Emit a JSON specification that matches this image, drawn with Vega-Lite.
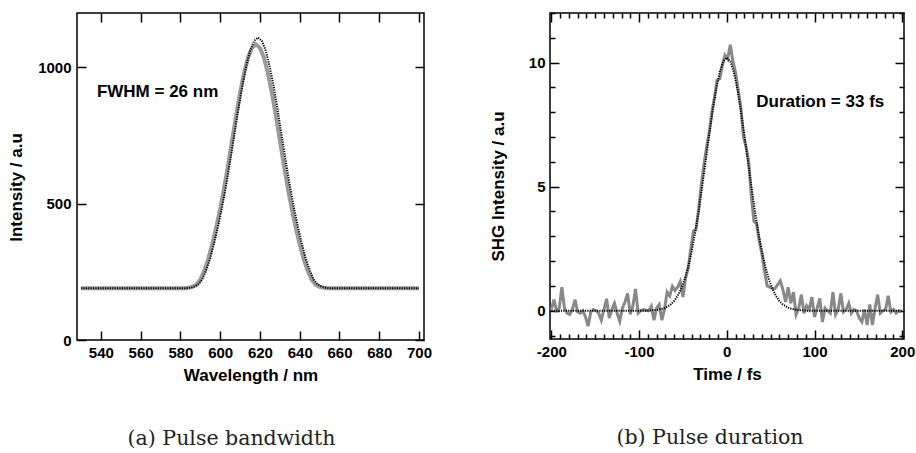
{
  "$schema": "https://vega.github.io/schema/vega-lite/v6.json",
  "background": "white",
  "padding": {"left": 6, "top": 11, "right": 0, "bottom": 0},
  "spacing": 55,
  "config": {
    "view": {"stroke": "black", "strokeWidth": 1.5},
    "axis": {
      "grid": false, "domain": false,
      "labelFont": "Liberation Sans", "labelFontWeight": "bold", "labelFontSize": 15, "labelColor": "black",
      "titleFont": "Liberation Sans", "titleFontWeight": "bold", "titleFontSize": 17, "titleColor": "black",
      "tickColor": "black", "tickWidth": 1.5
    }
  },
  "hconcat": [
    {
      "width": 347, "height": 327,
      "title": {"text": "(a) Pulse bandwidth", "orient": "bottom", "font": "DejaVu Serif", "fontSize": 20.5, "fontWeight": "normal", "color": "#222222", "offset": 46, "dx": -19},
      "layer": [
        {
          "data": {"values": [
            {"wavelength": 530, "intensity": 190}, {"wavelength": 550, "intensity": 190}, {"wavelength": 570, "intensity": 190},
            {"wavelength": 580, "intensity": 190}, {"wavelength": 582, "intensity": 190}, {"wavelength": 584, "intensity": 192},
            {"wavelength": 586, "intensity": 195}, {"wavelength": 588, "intensity": 203}, {"wavelength": 590, "intensity": 221},
            {"wavelength": 592, "intensity": 254}, {"wavelength": 594, "intensity": 297}, {"wavelength": 596, "intensity": 351},
            {"wavelength": 598, "intensity": 413}, {"wavelength": 600, "intensity": 481}, {"wavelength": 602, "intensity": 558},
            {"wavelength": 604, "intensity": 643}, {"wavelength": 606, "intensity": 733}, {"wavelength": 608, "intensity": 823},
            {"wavelength": 610, "intensity": 907}, {"wavelength": 612, "intensity": 979}, {"wavelength": 614, "intensity": 1037},
            {"wavelength": 616, "intensity": 1072}, {"wavelength": 618, "intensity": 1085}, {"wavelength": 620, "intensity": 1072},
            {"wavelength": 622, "intensity": 1037}, {"wavelength": 624, "intensity": 979}, {"wavelength": 626, "intensity": 907},
            {"wavelength": 628, "intensity": 823}, {"wavelength": 630, "intensity": 733}, {"wavelength": 632, "intensity": 643},
            {"wavelength": 634, "intensity": 558}, {"wavelength": 636, "intensity": 481}, {"wavelength": 638, "intensity": 413},
            {"wavelength": 640, "intensity": 351}, {"wavelength": 642, "intensity": 297}, {"wavelength": 644, "intensity": 254},
            {"wavelength": 646, "intensity": 221}, {"wavelength": 648, "intensity": 203}, {"wavelength": 650, "intensity": 195},
            {"wavelength": 652, "intensity": 192}, {"wavelength": 654, "intensity": 190}, {"wavelength": 670, "intensity": 190},
            {"wavelength": 690, "intensity": 190}, {"wavelength": 700, "intensity": 190}
          ]},
          "mark": {"type": "line", "color": "#9a9a9a", "strokeWidth": 4},
          "encoding": {
            "x": {"field": "wavelength", "type": "quantitative", "scale": {"domain": [528, 702.5], "nice": false, "zero": false},
              "axis": {"orient": "bottom", "values": [540, 560, 580, 600, 620, 640, 660, 680, 700], "format": "d", "tickSize": 9, "offset": -9, "labelPadding": 5, "title": "Wavelength / nm", "titlePadding": 7}},
            "y": {"field": "intensity", "type": "quantitative", "scale": {"domain": [0, 1200], "nice": false},
              "axis": {"orient": "left", "values": [0, 500, 1000], "format": "d", "tickSize": 9, "offset": -9, "labelPadding": 6, "title": "Intensity / a.u", "titlePadding": 12, "titleY": 174}}
          }
        },
        {
          "data": {"values": [
            {"wavelength": 530, "intensity": 190}, {"wavelength": 560, "intensity": 190}, {"wavelength": 583, "intensity": 190},
            {"wavelength": 585, "intensity": 192}, {"wavelength": 587, "intensity": 196}, {"wavelength": 589, "intensity": 204},
            {"wavelength": 591, "intensity": 222}, {"wavelength": 593, "intensity": 256}, {"wavelength": 595, "intensity": 300},
            {"wavelength": 597, "intensity": 356}, {"wavelength": 599, "intensity": 419}, {"wavelength": 601, "intensity": 489},
            {"wavelength": 603, "intensity": 568}, {"wavelength": 605, "intensity": 656}, {"wavelength": 607, "intensity": 748},
            {"wavelength": 609, "intensity": 840}, {"wavelength": 611, "intensity": 927}, {"wavelength": 613, "intensity": 1001},
            {"wavelength": 615, "intensity": 1060}, {"wavelength": 617, "intensity": 1097}, {"wavelength": 619, "intensity": 1110},
            {"wavelength": 621, "intensity": 1097}, {"wavelength": 623, "intensity": 1060}, {"wavelength": 625, "intensity": 1001},
            {"wavelength": 627, "intensity": 927}, {"wavelength": 629, "intensity": 840}, {"wavelength": 631, "intensity": 748},
            {"wavelength": 633, "intensity": 656}, {"wavelength": 635, "intensity": 568}, {"wavelength": 637, "intensity": 489},
            {"wavelength": 639, "intensity": 419}, {"wavelength": 641, "intensity": 356}, {"wavelength": 643, "intensity": 300},
            {"wavelength": 645, "intensity": 256}, {"wavelength": 647, "intensity": 222}, {"wavelength": 649, "intensity": 204},
            {"wavelength": 651, "intensity": 196}, {"wavelength": 653, "intensity": 192}, {"wavelength": 655, "intensity": 190},
            {"wavelength": 680, "intensity": 190}, {"wavelength": 700, "intensity": 190}
          ]},
          "mark": {"type": "line", "color": "black", "strokeWidth": 2, "strokeDash": [1.2, 1.2]},
          "encoding": {
            "x": {"field": "wavelength", "type": "quantitative",
              "axis": {"orient": "top", "values": [540, 560, 580, 600, 620, 640, 660, 680, 700], "tickSize": 9, "offset": -9, "labels": false, "title": null}},
            "y": {"field": "intensity", "type": "quantitative",
              "axis": {"orient": "right", "values": [0, 500, 1000], "tickSize": 9, "offset": -9, "labels": false, "title": null}}
          }
        },
        {
          "data": {"values": [{}]},
          "mark": {"type": "text", "text": "FWHM = 26 nm", "align": "left", "baseline": "alphabetic", "font": "Liberation Sans", "fontWeight": "bold", "fontSize": 17, "color": "black"},
          "encoding": {
            "x": {"datum": 538, "type": "quantitative", "axis": null},
            "y": {"datum": 892, "type": "quantitative", "axis": null}
          }
        }
      ],
      "resolve": {"axis": {"x": "independent", "y": "independent"}}
    },
    {
      "width": 354, "height": 326,
      "title": {"text": "(b) Pulse duration", "orient": "bottom", "font": "DejaVu Serif", "fontSize": 20.5, "fontWeight": "normal", "color": "#222222", "offset": 46, "dx": -17},
      "layer": [
        {
          "data": {"values": [
            {"time": -200, "signal": 0.05}, {"time": -197, "signal": 0.45}, {"time": -194, "signal": 0.0}, {"time": -191, "signal": 0.1},
            {"time": -188, "signal": 0.95}, {"time": -185, "signal": 0.1}, {"time": -182, "signal": -0.1}, {"time": -179, "signal": -0.15},
            {"time": -176, "signal": 0.05}, {"time": -173, "signal": 0.45}, {"time": -170, "signal": -0.05}, {"time": -167, "signal": -0.1},
            {"time": -164, "signal": 0.0}, {"time": -161, "signal": -0.25}, {"time": -158, "signal": -0.62}, {"time": -155, "signal": -0.05},
            {"time": -152, "signal": 0.05}, {"time": -149, "signal": 0.0}, {"time": -146, "signal": -0.1}, {"time": -143, "signal": -0.38},
            {"time": -140, "signal": 0.05}, {"time": -137, "signal": 0.48}, {"time": -134, "signal": -0.3}, {"time": -131, "signal": 0.05},
            {"time": -128, "signal": 0.3}, {"time": -125, "signal": -0.1}, {"time": -122, "signal": -0.42}, {"time": -119, "signal": 0.1},
            {"time": -116, "signal": 0.35}, {"time": -113, "signal": 0.7}, {"time": -110, "signal": -0.15}, {"time": -107, "signal": 0.2},
            {"time": -104, "signal": 0.88}, {"time": -101, "signal": -0.1}, {"time": -98, "signal": 0.0}, {"time": -95, "signal": 0.05},
            {"time": -92, "signal": 0.02}, {"time": -89, "signal": 0.0}, {"time": -86, "signal": 0.18}, {"time": -83, "signal": -0.38},
            {"time": -80, "signal": 0.1}, {"time": -77, "signal": 0.25}, {"time": -74, "signal": -0.38}, {"time": -71, "signal": 0.05},
            {"time": -68, "signal": 0.75}, {"time": -65, "signal": 0.6}, {"time": -62, "signal": 0.98}, {"time": -59, "signal": 0.82},
            {"time": -56, "signal": 0.95}, {"time": -53, "signal": 1.18}, {"time": -50, "signal": 0.55}, {"time": -47, "signal": 1.3},
            {"time": -44, "signal": 1.7}, {"time": -41, "signal": 2.5}, {"time": -38, "signal": 3.2}, {"time": -35, "signal": 3.3},
            {"time": -32, "signal": 4.1}, {"time": -29, "signal": 5.1}, {"time": -26, "signal": 5.9}, {"time": -23, "signal": 6.6},
            {"time": -20, "signal": 7.2}, {"time": -17, "signal": 8.0}, {"time": -14, "signal": 8.6}, {"time": -11, "signal": 9.3},
            {"time": -8, "signal": 9.35}, {"time": -5, "signal": 9.9}, {"time": -2, "signal": 10.3}, {"time": 1, "signal": 10.15},
            {"time": 4, "signal": 10.72}, {"time": 7, "signal": 10.05}, {"time": 10, "signal": 9.6}, {"time": 13, "signal": 8.9},
            {"time": 16, "signal": 8.2}, {"time": 19, "signal": 7.0}, {"time": 22, "signal": 6.6}, {"time": 25, "signal": 6.0},
            {"time": 28, "signal": 4.6}, {"time": 31, "signal": 3.6}, {"time": 34, "signal": 3.5}, {"time": 37, "signal": 2.8},
            {"time": 40, "signal": 2.3}, {"time": 43, "signal": 1.6}, {"time": 46, "signal": 1.0}, {"time": 49, "signal": 0.95},
            {"time": 52, "signal": 0.9}, {"time": 55, "signal": 0.9}, {"time": 58, "signal": 1.05}, {"time": 61, "signal": 1.2},
            {"time": 64, "signal": 0.85}, {"time": 67, "signal": 0.35}, {"time": 70, "signal": 0.95}, {"time": 73, "signal": 0.3},
            {"time": 76, "signal": 0.75}, {"time": 79, "signal": -0.15}, {"time": 82, "signal": 0.1}, {"time": 85, "signal": 0.65},
            {"time": 88, "signal": -0.1}, {"time": 91, "signal": 0.2}, {"time": 94, "signal": 0.05}, {"time": 97, "signal": 0.55},
            {"time": 100, "signal": -0.25}, {"time": 103, "signal": 0.1}, {"time": 106, "signal": 0.5}, {"time": 109, "signal": -0.45},
            {"time": 112, "signal": 0.1}, {"time": 115, "signal": 0.0}, {"time": 118, "signal": -0.1}, {"time": 121, "signal": 0.75},
            {"time": 124, "signal": -0.15}, {"time": 127, "signal": 0.05}, {"time": 130, "signal": 0.7}, {"time": 133, "signal": -0.05},
            {"time": 136, "signal": 0.05}, {"time": 139, "signal": 0.3}, {"time": 142, "signal": -0.1}, {"time": 145, "signal": 0.05},
            {"time": 148, "signal": 0.0}, {"time": 151, "signal": -0.3}, {"time": 154, "signal": -0.45}, {"time": 157, "signal": 0.05},
            {"time": 160, "signal": -0.58}, {"time": 163, "signal": 0.25}, {"time": 166, "signal": -0.58}, {"time": 169, "signal": 0.1},
            {"time": 172, "signal": 0.65}, {"time": 175, "signal": -0.1}, {"time": 178, "signal": 0.0}, {"time": 181, "signal": 0.05},
            {"time": 184, "signal": 0.6}, {"time": 187, "signal": -0.05}, {"time": 190, "signal": 0.05}, {"time": 193, "signal": -0.1},
            {"time": 196, "signal": 0.0}, {"time": 199, "signal": -0.05}
          ]},
          "mark": {"type": "line", "color": "#888888", "strokeWidth": 3},
          "encoding": {
            "x": {"field": "time", "type": "quantitative", "scale": {"domain": [-201.5, 202], "nice": false, "zero": false},
              "axis": {"orient": "bottom", "values": [-200, -100, 0, 100, 200], "labelExpr": "'' + datum.value", "tickSize": 9, "offset": -9, "labelPadding": 5, "title": "Time / fs", "titlePadding": 7}},
            "y": {"field": "signal", "type": "quantitative", "scale": {"domain": [-1.14, 12], "nice": false, "zero": false},
              "axis": {"orient": "left", "values": [0, 5, 10], "format": "d", "tickSize": 9, "offset": -9, "labelPadding": 5, "title": "SHG Intensity / a.u", "titlePadding": 21, "titleY": 173}}
          }
        },
        {
          "data": {"values": [
            {"time": -200, "signal": 0}, {"time": -150, "signal": 0}, {"time": -100, "signal": 0}, {"time": -92, "signal": 0},
            {"time": -88, "signal": 0.01}, {"time": -84, "signal": 0.02}, {"time": -80, "signal": 0.03}, {"time": -76, "signal": 0.06},
            {"time": -72, "signal": 0.09}, {"time": -68, "signal": 0.16}, {"time": -64, "signal": 0.25}, {"time": -60, "signal": 0.39},
            {"time": -56, "signal": 0.6}, {"time": -52, "signal": 0.88}, {"time": -48, "signal": 1.27}, {"time": -44, "signal": 1.77},
            {"time": -40, "signal": 2.4}, {"time": -36, "signal": 3.15}, {"time": -32, "signal": 4.04}, {"time": -28, "signal": 5.02},
            {"time": -24, "signal": 6.05}, {"time": -20, "signal": 7.1}, {"time": -16, "signal": 8.09}, {"time": -12, "signal": 8.95},
            {"time": -8, "signal": 9.63}, {"time": -4, "signal": 10.05}, {"time": 0, "signal": 10.2}, {"time": 4, "signal": 10.05},
            {"time": 8, "signal": 9.63}, {"time": 12, "signal": 8.95}, {"time": 16, "signal": 8.09}, {"time": 20, "signal": 7.1},
            {"time": 24, "signal": 6.05}, {"time": 28, "signal": 5.02}, {"time": 32, "signal": 4.04}, {"time": 36, "signal": 3.15},
            {"time": 40, "signal": 2.4}, {"time": 44, "signal": 1.77}, {"time": 48, "signal": 1.27}, {"time": 52, "signal": 0.88},
            {"time": 56, "signal": 0.6}, {"time": 60, "signal": 0.39}, {"time": 64, "signal": 0.25}, {"time": 68, "signal": 0.16},
            {"time": 72, "signal": 0.09}, {"time": 76, "signal": 0.06}, {"time": 80, "signal": 0.03}, {"time": 84, "signal": 0.02},
            {"time": 88, "signal": 0.01}, {"time": 92, "signal": 0}, {"time": 100, "signal": 0}, {"time": 150, "signal": 0},
            {"time": 200, "signal": 0}
          ]},
          "mark": {"type": "line", "color": "black", "strokeWidth": 2, "strokeDash": [1.2, 1.2]},
          "encoding": {
            "x": {"field": "time", "type": "quantitative",
              "axis": {"orient": "top", "values": [-200, -100, 0, 100, 200], "tickSize": 9, "offset": -9, "labels": false, "title": null}},
            "y": {"field": "signal", "type": "quantitative",
              "axis": {"orient": "right", "values": [0, 5, 10], "tickSize": 9, "offset": -9, "labels": false, "title": null}}
          }
        },
        {
          "data": {"values": [{}]},
          "mark": {"type": "text", "text": "Duration = 33 fs", "align": "left", "baseline": "alphabetic", "font": "Liberation Sans", "fontWeight": "bold", "fontSize": 17, "color": "black"},
          "encoding": {
            "x": {"datum": 33.6, "type": "quantitative",
              "axis": {"orient": "bottom", "values": [-190, -180, -170, -160, -150, -140, -130, -120, -110, -90, -80, -70, -60, -50, -40, -30, -20, -10, 10, 20, 30, 40, 50, 60, 70, 80, 90, 110, 120, 130, 140, 150, 160, 170, 180, 190], "tickSize": 5, "offset": -5, "labels": false, "title": null}},
            "y": {"datum": 8.2, "type": "quantitative",
              "axis": {"orient": "left", "values": [-1, 1, 2, 3, 4, 6, 7, 8, 9, 11, 12], "tickSize": 5, "offset": -5, "labels": false, "title": null}}
          }
        },
        {
          "data": {"values": [{}]},
          "mark": {"type": "point", "opacity": 0},
          "encoding": {
            "x": {"datum": 0, "type": "quantitative",
              "axis": {"orient": "top", "values": [-190, -180, -170, -160, -150, -140, -130, -120, -110, -90, -80, -70, -60, -50, -40, -30, -20, -10, 10, 20, 30, 40, 50, 60, 70, 80, 90, 110, 120, 130, 140, 150, 160, 170, 180, 190], "tickSize": 5, "offset": -5, "labels": false, "title": null}},
            "y": {"datum": 0, "type": "quantitative",
              "axis": {"orient": "right", "values": [-1, 1, 2, 3, 4, 6, 7, 8, 9, 11, 12], "tickSize": 5, "offset": -5, "labels": false, "title": null}}
          }
        }
      ],
      "resolve": {"axis": {"x": "independent", "y": "independent"}}
    }
  ]
}
